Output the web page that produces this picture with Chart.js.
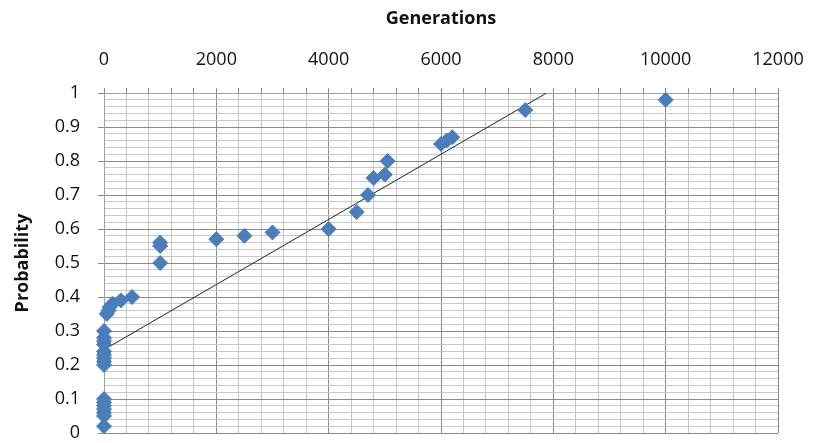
<!DOCTYPE html>
<html>
<head>
<meta charset="utf-8">
<script src="https://cdn.jsdelivr.net/npm/chart.js@4"></script>
<style>
  html, body { margin: 0; padding: 0; background: #fff; }
  #wrap { width: 813px; height: 443px; }
</style>
</head>
<body>
<div id="wrap"><canvas id="myChart" width="813" height="443"></canvas></div>
<script>
// data
var generations = [0, 0, 0, 0, 0, 0, 0, 0, 0, 0, 0, 0, 0, 0, 0, 0,
                   50, 80, 100, 150, 300, 500,
                   1000, 1000, 1000, 2000, 2500, 3000, 4000,
                   4500, 4700, 4800, 5000, 5050, 6000, 6100, 6200, 7500, 10000];
var probability = [0.02, 0.05, 0.06, 0.07, 0.08, 0.09, 0.1, 0.2, 0.21, 0.22, 0.23, 0.24, 0.26, 0.27, 0.28, 0.3,
                   0.35, 0.36, 0.37, 0.38, 0.39, 0.4,
                   0.5, 0.55, 0.56, 0.57, 0.58, 0.59, 0.6,
                   0.65, 0.7, 0.75, 0.76, 0.8, 0.85, 0.86, 0.87, 0.95, 0.98];
// linear trend line ends
var trendX = [0, 7880];
var trendY = [0.245, 1.0];

var xTicks = [0, 2000, 4000, 6000, 8000, 10000, 12000];
var yTicks = [0, 0.1, 0.2, 0.3, 0.4, 0.5, 0.6, 0.7, 0.8, 0.9, 1];

var pts = generations.map(function (g, i) { return { x: g, y: probability[i] }; });
var trend = trendX.map(function (g, i) { return { x: g, y: trendY[i] }; });

var tickFont = { family: "'Open Sans', 'Noto Sans', sans-serif", size: 18 };
var titleFont = { family: "'Open Sans', 'Noto Sans', sans-serif", size: 18, weight: 'bold' };

function isMajorX(v) { return xTicks.indexOf(Math.round(v)) >= 0; }
function isMajorY(v) { return Math.round(v * 100) % 10 === 0; }

var ctx = document.getElementById('myChart').getContext('2d');
var chart = new Chart(ctx, {
  type: 'scatter',
  data: {
    datasets: [{
      label: 'Probability',
      data: pts,
      clip: false,
      pointStyle: 'rectRot',
      pointRadius: 7.5,
      backgroundColor: '#4a7ebb',
      borderColor: '#4a7ebb',
      borderWidth: 1
    }, {
      label: 'Trend',
      type: 'line',
      data: trend,
      borderColor: '#222',
      borderWidth: 1,
      pointRadius: 0,
      fill: false
    }]
  },
  options: {
    responsive: false,
    animation: false,
    layout: { padding: { left: 0, top: 0, right: 35, bottom: 10 } },
    plugins: { legend: { display: false }, tooltip: { enabled: false } },
    scales: {
      x: {
        type: 'linear',
        position: 'top',
        min: 0,
        max: 12000,
        afterBuildTicks: function (axis) {
          var t = [];
          for (var v = 0; v <= 12000; v += 400) t.push({ value: v });
          axis.ticks = t;
        },
        afterFit: function (axis) {
          axis.height = 93;
          axis.paddingLeft = 0; axis.paddingRight = 0;
        },
        ticks: {
          autoSkip: false,
          maxRotation: 0,
          font: tickFont,
          color: '#111',
          padding: 17,
          callback: function (v) { return isMajorX(v) ? String(v) : ''; }
        },
        grid: {
          color: function (c) { return isMajorX(c.tick.value) ? '#8a8a8a' : '#c8c8c8'; },
          tickColor: '#8a8a8a',
          lineWidth: 1,
          tickLength: 5
        },
        border: { display: true, color: '#a0a0a0' },
        title: { display: true, text: 'Generations', font: titleFont, color: '#111', padding: { top: 8, bottom: 6 } }
      },
      y: {
        min: 0,
        max: 1,
        afterBuildTicks: function (axis) {
          var t = [];
          for (var i = 0; i <= 50; i++) t.push({ value: i / 50 });
          axis.ticks = t;
        },
        afterFit: function (axis) {
          axis.width = 104;
          axis.paddingTop = 0; axis.paddingBottom = 0;
        },
        ticks: {
          autoSkip: false,
          font: tickFont,
          color: '#111',
          padding: 18,
          callback: function (v) {
            if (!isMajorY(v)) return '';
            var r = Math.round(v * 10) / 10;
            return yTicks.indexOf(r) >= 0 ? String(r) : '';
          }
        },
        grid: {
          color: function (c) { return isMajorY(c.tick.value) ? '#8a8a8a' : '#c8c8c8'; },
          tickColor: function (c) { return isMajorY(c.tick.value) ? '#8a8a8a' : 'rgba(0,0,0,0)'; },
          lineWidth: 1,
          tickLength: 6
        },
        border: { display: true, color: '#a0a0a0' },
        title: { display: true, text: 'Probability', font: titleFont, color: '#111', padding: { top: 12, bottom: 4 } }
      }
    }
  }
});
</script>
</body>
</html>
